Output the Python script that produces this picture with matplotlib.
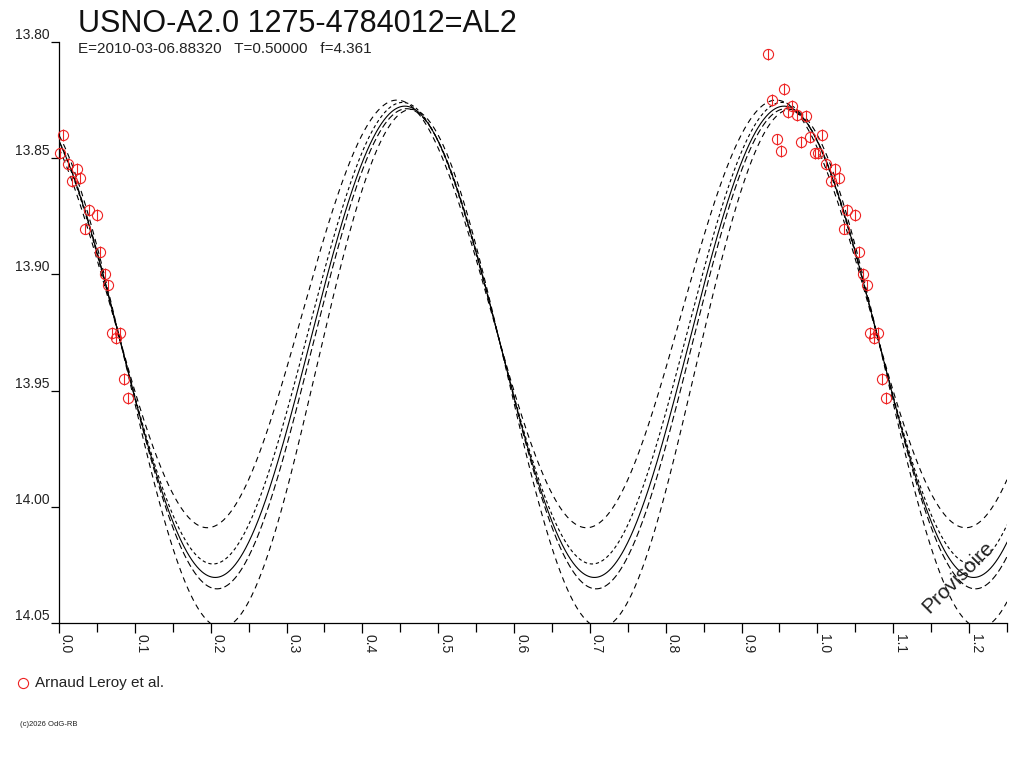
import matplotlib
matplotlib.use('Agg')
import numpy as np
import matplotlib.pyplot as plt
from matplotlib.lines import Line2D

plt.rcParams['font.family'] = ['Liberation Sans', 'DejaVu Sans']

# Observations (phase in [0,1), magnitude, error) - read from the picture
obs_phase = [0.9351, 0.9562, 0.9404, 0.9668, 0.9615, 0.9726, 0.9845, 0.9462,
             0.9515, 0.9779, 0.9901, 0.0056, 0.9967, 0.0012, 0.0117, 0.0232,
             0.0175, 0.0283, 0.0396, 0.0500, 0.0348, 0.0546, 0.0601, 0.0650,
             0.0694, 0.0803, 0.0748, 0.0854, 0.0908]
obs_mag = [13.8053, 13.8201, 13.8250, 13.8275, 13.8300, 13.8314, 13.8318, 13.8419,
           13.8468, 13.8429, 13.8410, 13.8400, 13.8479, 13.8479, 13.8526, 13.8546,
           13.8597, 13.8586, 13.8723, 13.8744, 13.8803, 13.8902, 13.8998, 13.9047,
           13.9253, 13.9253, 13.9275, 13.9451, 13.9531]
obs_err = [0.0025] * len(obs_phase)

# Fitted model curves: mean, half-amplitude, phase of maximum (2 waves per period)
curve_mean = [13.9170, 13.9253, 13.9290, 13.9320, 13.9405]
curve_amp = [0.0920, 0.0993, 0.1014, 0.1033, 0.1115]
curve_pmax = [0.4456, 0.4530, 0.4560, 0.4583, 0.4642]
curve_dash = [(5, 4), (3, 2.5), None, (6, 3), (5, 4)]

title = "USNO-A2.0 1275-4784012=AL2"
subtitle = "E=2010-03-06.88320   T=0.50000   f=4.361"
observer = "Arnaud Leroy et al."

red = '#ee2222'

fig = plt.figure(figsize=(10.24, 7.68), dpi=100)
ax = fig.add_axes([59/1024, 1-623/768, 948/1024, 581/768])

ph = np.linspace(0, 1.25, 1500)
for m, a, p, d in zip(curve_mean, curve_amp, curve_pmax, curve_dash):
    y = m - a*np.cos(4*np.pi*(ph - p))
    line, = ax.plot(ph, y, color='black', lw=0.8)
    if d is not None:
        line.set_dashes(d)

# data repeated one cycle later
x_all = []
y_all = []
e_all = []
for x, y, e in zip(obs_phase, obs_mag, obs_err):
    for k in (0, 1):
        if 0 <= x + k <= 1.25:
            x_all.append(x + k)
            y_all.append(y)
            e_all.append(e)
ax.errorbar(x_all, y_all, yerr=e_all, fmt='none', ecolor=red, elinewidth=0.8,
            capsize=0, clip_on=False, zorder=3)
ax.plot(x_all, y_all, 'o', mfc='none', mec=red, ms=7.3, mew=0.8, clip_on=False, zorder=4)

ax.set_xlim(0, 1.25)
ax.set_ylim(14.05, 13.80)
ax.set_xticks(np.arange(0, 1.21, 0.1))
ax.set_xticks(np.arange(0.05, 1.26, 0.1), minor=True)
ax.set_xticklabels(["%.1f" % v for v in np.arange(0, 1.21, 0.1)])
ax.set_yticks(np.arange(13.80, 14.051, 0.05))
ax.set_yticklabels(["%.2f" % v for v in np.arange(13.80, 14.051, 0.05)])

for s in ('top', 'right'):
    ax.spines[s].set_visible(False)
for s in ('left', 'bottom'):
    ax.spines[s].set_linewidth(0.9)

ax.tick_params(axis='x', which='major', direction='out', length=7, width=0.9, pad=1,
               labelsize=10, labelcolor='#222222')
ax.tick_params(axis='x', which='minor', direction='out', length=6.5, width=0.9)
ax.tick_params(axis='y', direction='out', length=6, width=0.9, pad=1,
               labelsize=10, labelcolor='#222222')
plt.setp(ax.get_xticklabels(), rotation=270, ha='left', va='top')
plt.setp(ax.get_yticklabels(), va='bottom')

fig.text(78/1024, 1-32/768, title, fontsize=22, va='baseline', color='#111111')
fig.text(78/1024, 1-53/768, subtitle, fontsize=11, va='baseline', color='#222222')

fig.text(958/1024, 1-577/768, "Provisoire", fontsize=15, rotation=45,
         ha='center', va='center', color='#222222')

fig.add_artist(Line2D([23/1024], [1-683/768], marker='o', mfc='none', mec=red,
                      ms=7.3, mew=0.8, transform=fig.transFigure))
fig.text(35/1024, 1-683/768, observer, fontsize=11, va='center', color='#222222')
fig.text(20/1024, 1-724/768, "(c)2026 OdG-RB", fontsize=5.5, va='center', color='#222222')

fig.savefig("out.png", dpi=100)
